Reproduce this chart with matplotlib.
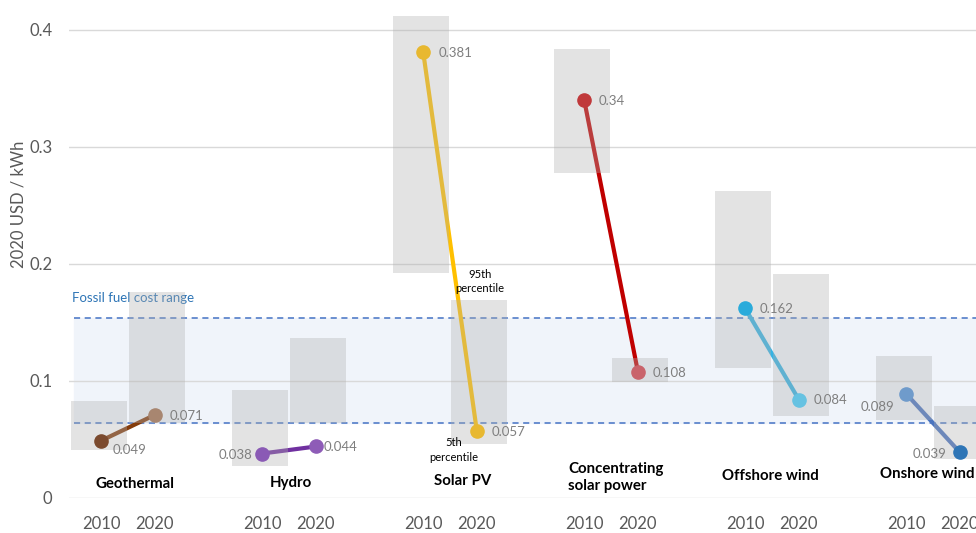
import numpy as np
import matplotlib.pyplot as plt

plt.rcParams['font.family'] = ['Lato', 'DejaVu Sans']

# data (2020 USD / kWh)
techs = ['Geothermal', 'Hydro', 'Solar PV', 'Concentrating\nsolar power', 'Offshore wind', 'Onshore wind']
years = ['2010', '2020']
lcoe_2010 = [0.049, 0.038, 0.381, 0.340, 0.162, 0.089]
lcoe_2020 = [0.071, 0.044, 0.057, 0.108, 0.084, 0.039]
p5_2010 = [0.041, 0.027, 0.192, 0.278, 0.111, 0.067]
p95_2010 = [0.083, 0.092, 0.412, 0.384, 0.262, 0.121]
p5_2020 = [0.064, 0.064, 0.046, 0.099, 0.070, 0.033]
p95_2020 = [0.176, 0.137, 0.169, 0.120, 0.191, 0.079]
fossil_low, fossil_high = 0.064, 0.154

# styles
line_cols = ['#843C0C', '#7030A0', '#FFC000', '#C00000', '#34B3E4', '#4A74C0']
m2010_cols = ['#7B4A2E', '#8A5AB5', '#E8B830', '#C0393B', '#2AABDB', '#6F9BCB']
m2020_cols = ['#A88670', '#8E5CB7', '#E8B830', '#C9636B', '#66C2E2', '#2E75B6']
grey = '#595959'

x10 = np.arange(len(techs)) * 3
x20 = x10 + 1

fig = plt.figure(figsize=(9.76, 5.33), dpi=100)
ax = fig.add_axes([0.0707, 0.0657, 0.9293, 0.9343])
ax.set_xlim(-0.6, 16.3)
ax.set_ylim(0, 0.4256)

# fossil fuel band
ax.axhspan(fossil_low, fossil_high, xmin=0.005, color='#F0F4FA', zorder=0)
for v in (fossil_low, fossil_high):
    ax.axhline(v, xmin=0.005, color='#4472C4', ls=(0, (4, 3)), lw=1.1, zorder=1)
ax.text(-0.54, 0.166, 'Fossil fuel cost range', color='#2E75B6', fontsize=9.5, va='bottom')

# lines under the boxes
for i in range(len(techs)):
    ax.plot([x10[i], x20[i]], [lcoe_2010[i], lcoe_2020[i]], color=line_cols[i],
            lw=3, solid_capstyle='round', zorder=2)

# percentile boxes
ax.bar(x10 - 0.04, np.array(p95_2010) - np.array(p5_2010), bottom=p5_2010, width=1.05,
       color='#b0b0b0', alpha=0.35, zorder=3)
ax.bar(x20 + 0.04, np.array(p95_2020) - np.array(p5_2020), bottom=p5_2020, width=1.05,
       color='#b0b0b0', alpha=0.35, zorder=3)

# markers on top
for i in range(len(techs)):
    ax.plot(x10[i], lcoe_2010[i], 'o', ms=9.5, color=m2010_cols[i], zorder=4)
    ax.plot(x20[i], lcoe_2020[i], 'o', ms=9.5, color=m2020_cols[i], zorder=4)

# value labels
off_2010 = [(0.22, -0.008, 'left'), (-0.19, -0.001, 'right'), (0.28, -0.001, 'left'),
            (0.27, -0.001, 'left'), (0.27, -0.0005, 'left'), (-0.23, -0.011, 'right')]
off_2020 = [(0.28, -0.001, 'left'), (0.15, -0.0005, 'left'), (0.28, -0.001, 'left'),
            (0.28, -0.001, 'left'), (0.28, 0.0, 'left'), (-0.25, -0.0015, 'right')]
for i in range(len(techs)):
    dx, dy, ha = off_2010[i]
    ax.text(x10[i] + dx, lcoe_2010[i] + dy, f'{lcoe_2010[i]:g}', color='#7f7f7f',
            fontsize=9.5, ha=ha, va='center', zorder=5)
    dx, dy, ha = off_2020[i]
    ax.text(x20[i] + dx, lcoe_2020[i] + dy, f'{lcoe_2020[i]:g}', color='#7f7f7f',
            fontsize=9.5, ha=ha, va='center', zorder=5)

# technology names
name_pos = [(0.63, 0.012, 'center'), (3.54, 0.013, 'center'), (6.74, 0.0145, 'center'),
            (8.70, 0.0175, 'left'), (12.46, 0.019, 'center'), (14.52, 0.0205, 'left')]
for name, (nx, ny, ha) in zip(techs, name_pos):
    ax.text(nx, ny, name, fontsize=10.8, fontweight='bold', ha=ha, va='center',
            color='black', linespacing=1.35, zorder=5)

# percentile notes
ax.text(7.05, 0.185, '95th\npercentile', fontsize=8, ha='center', va='center', linespacing=1.4)
ax.text(6.57, 0.041, '5th\npercentile', fontsize=8, ha='center', va='center', linespacing=1.4)

# axes styling
ax.set_xticks(np.concatenate([x10, x20]))
ax.set_xticklabels([years[0]] * len(techs) + [years[1]] * len(techs))
ax.set_yticks([0, 0.1, 0.2, 0.3, 0.4])
ax.set_yticklabels(['0', '0.1', '0.2', '0.3', '0.4'])
ax.tick_params(axis='both', length=0, labelsize=12, labelcolor=grey)
ax.tick_params(axis='y', pad=12)
ax.tick_params(axis='x', pad=13)
ax.grid(axis='y', color='#d9d9d9', lw=1)
ax.set_axisbelow(True)
for s in ax.spines.values():
    s.set_visible(False)
ax.set_ylabel('2020 USD / kWh', fontsize=12, color=grey)
ax.yaxis.set_label_coords(-0.047, 0.59)

fig.savefig('out.png', dpi=100)
